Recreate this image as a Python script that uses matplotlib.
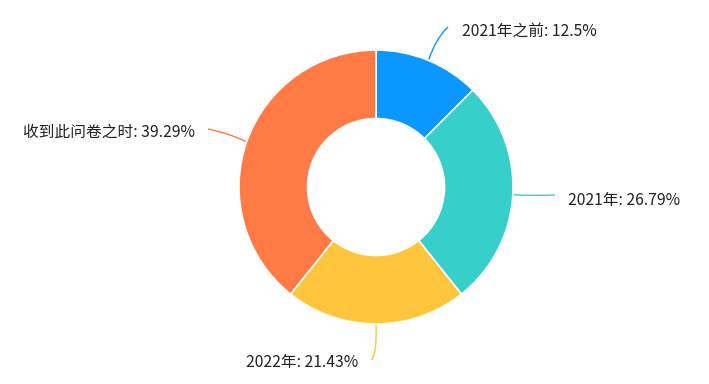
import matplotlib
matplotlib.use("Agg")
import matplotlib.pyplot as plt
import numpy as np
from matplotlib.path import Path
from matplotlib.patches import PathPatch

plt.rcParams['font.family'] = ['Noto Sans CJK SC', 'DejaVu Sans']

categories = ["2021年之前", "2021年", "2022年", "收到此问卷之时"]
values = [12.5, 26.79, 21.43, 39.29]
colors = ["#0A97FF", "#36CFC9", "#FFC53D", "#FF7A45"]

W, H = 709, 384
fig = plt.figure(figsize=(W / 100, H / 100), dpi=100)
ax = fig.add_axes([0, 0, 1, 1])
ax.set_xlim(0, W)
ax.set_ylim(0, H)
ax.set_aspect('equal')
ax.axis('off')

cx, cy = 376, H - 187
R = 137
wedges, _ = ax.pie(values, colors=colors, center=(cx, cy), radius=R,
                   startangle=90, counterclock=False,
                   wedgeprops=dict(width=R * 0.5, edgecolor='white', linewidth=1.2))
ax.set_xlim(0, W)
ax.set_ylim(0, H)

# label layout: (line control point, line end point, text pos, ha) in pixel coords
layout = [
    ((436, 38), (448, 27), (462, 31), 'left'),
    ((535, 196), (555, 195), (568, 200), 'left'),
    ((377, 356), (371, 360), (358, 362), 'right'),
    ((228, 133), (208, 129), (195, 132), 'right'),
]

total = sum(values)
cum = 0
for v, c, name, (ctrl, end, tpos, ha) in zip(values, colors, categories, layout):
    mid = 90 - (cum + v / 2) / total * 360
    cum += v
    a = np.deg2rad(mid)
    sx, sy = cx + (R + 1) * np.cos(a), cy + (R + 1) * np.sin(a)
    verts = [(sx, sy), (ctrl[0], H - ctrl[1]), (end[0], H - end[1])]
    path = Path(verts, [Path.MOVETO, Path.CURVE3, Path.CURVE3])
    ax.add_patch(PathPatch(path, facecolor='none', edgecolor=c, lw=1))
    pct = f"{v:g}%"
    ax.text(tpos[0], H - tpos[1], f"{name}: {pct}", ha=ha, va='center',
            fontsize=11.3, color='#222222')

fig.savefig("out.png", dpi=100)
